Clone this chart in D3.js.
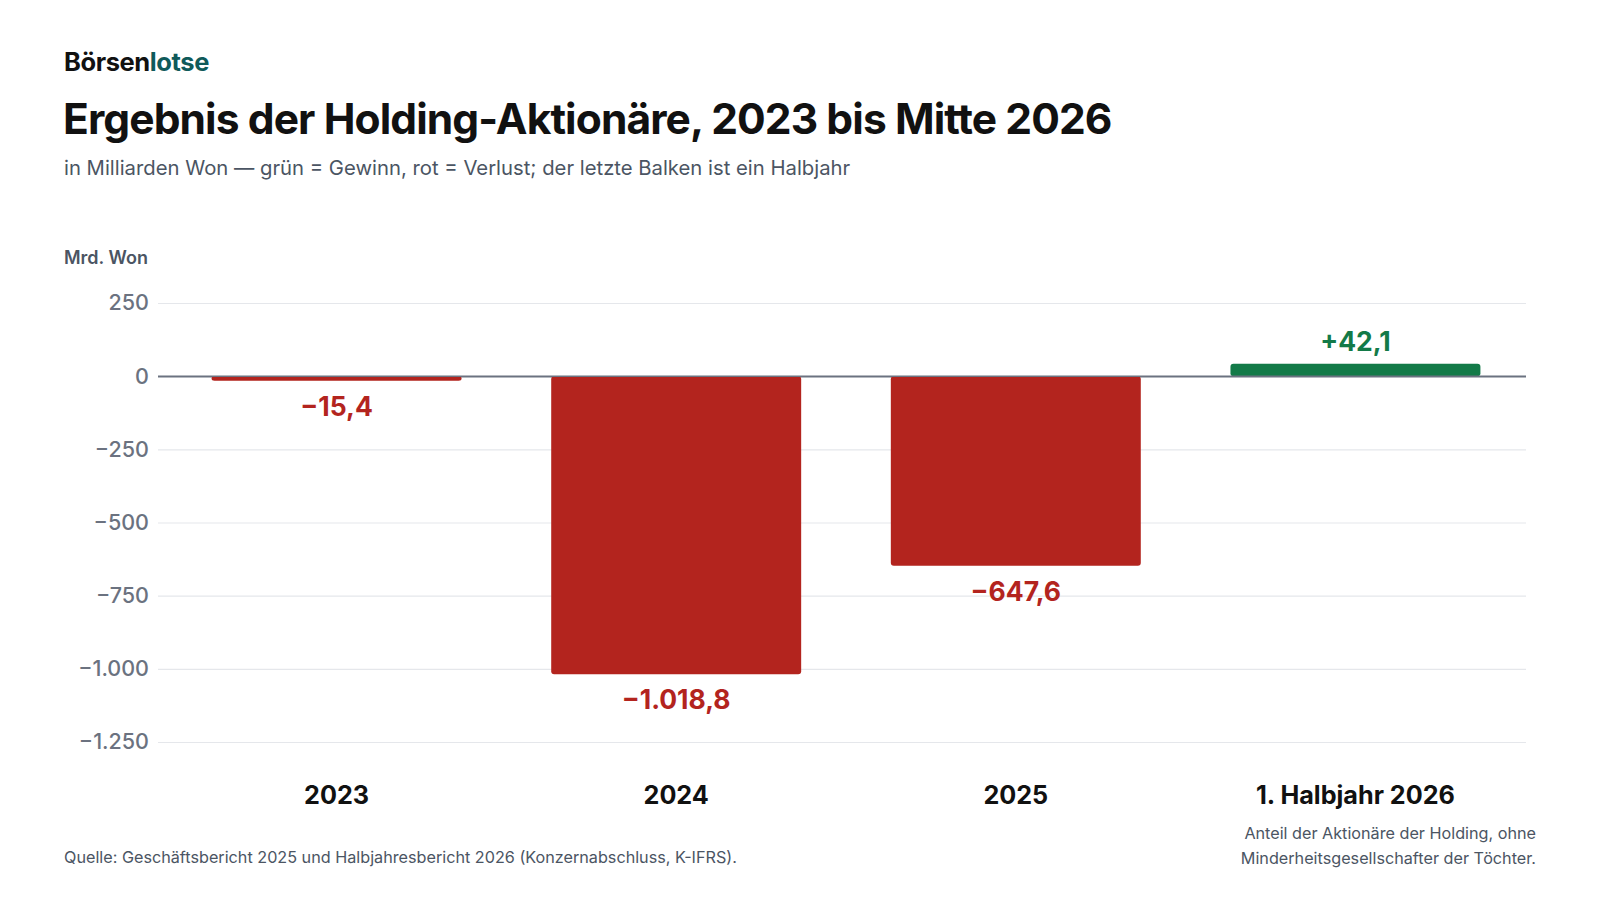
<!DOCTYPE html>
<html lang="de">
<head>
<meta charset="utf-8">
<script src="https://cdn.jsdelivr.net/npm/d3@7"></script>
<style>
  html, body { margin: 0; padding: 0; background: #fff; }
  svg { display: block; font-family: Inter, "Noto Sans", sans-serif; }
</style>
</head>
<body>
<div id="chart"></div>
<script>
// chart values
var categories = ["2023", "2024", "2025", "1. Halbjahr 2026"];
var values = [-15.4, -1018.8, -647.6, 42.1];
var yTicks = [250, 0, -250, -500, -750, -1000, -1250];

var width = 1600, height = 900;
var margin = { top: 303, right: 74, bottom: 158, left: 158 };

var svg = d3.select("#chart").append("svg")
  .attr("width", width)
  .attr("height", height);

var fmt = d3.formatLocale({ decimal: ",", thousands: ".", grouping: [3], currency: ["", ""], minus: "\u2212" });
var tickFmt = fmt.format(",d");
var valFmt = fmt.format(",.1f");

// scales
var y = d3.scaleLinear()
  .domain([250, -1250])
  .range([margin.top, height - margin.bottom]);

var x = d3.scaleBand()
  .domain(categories)
  .range([margin.left + 4, width - margin.right + 4])
  .paddingInner(0.264)
  .paddingOuter(0.146);

var plotW = width - margin.right - margin.left;

// header
var brand = svg.append("text")
  .attr("x", 64).attr("y", 71)
  .attr("font-size", 25.5).attr("font-weight", 700)
  .attr("letter-spacing", -0.4);
brand.append("tspan").attr("fill", "#111").text("Börsen");
brand.append("tspan").attr("fill", "#0f5a5a").text("lotse");

svg.append("text")
  .attr("x", 63).attr("y", 134)
  .attr("font-size", 42.5).attr("font-weight", 700)
  .attr("letter-spacing", -0.9)
  .attr("fill", "#111")
  .text("Ergebnis der Holding-Aktionäre, 2023 bis Mitte 2026");

svg.append("text")
  .attr("x", 64).attr("y", 175)
  .attr("font-size", 20.3)
  .attr("fill", "#4b5563")
  .text("in Milliarden Won — grün = Gewinn, rot = Verlust; der letzte Balken ist ein Halbjahr");

svg.append("text")
  .attr("x", 64).attr("y", 264)
  .attr("font-size", 18).attr("font-weight", 600)
  .attr("fill", "#4b5563")
  .text("Mrd. Won");

// y axis with grid
var yAxis = d3.axisLeft(y)
  .tickValues(yTicks)
  .tickFormat(tickFmt)
  .tickSize(-plotW)
  .tickPadding(9);

var gy = svg.append("g")
  .attr("transform", "translate(" + margin.left + ",0)")
  .call(yAxis);
gy.select(".domain").remove();
gy.selectAll(".tick line")
  .attr("stroke", (d) => d === 0 ? "#6b7280" : "#e5e7eb")
  .attr("stroke-width", (d) => d === 0 ? 1.5 : 1.2);
gy.selectAll(".tick text")
  .attr("font-size", 21.5).attr("font-weight", 500)
  .attr("font-family", "Inter, sans-serif")
  .attr("fill", "#6b7280");

// bars
svg.append("g").selectAll("rect")
  .data(values)
  .join("rect")
  .attr("x", (d, i) => x(categories[i]))
  .attr("width", x.bandwidth())
  .attr("y", (d) => Math.min(y(d), y(0)))
  .attr("height", (d) => Math.abs(y(d) - y(0)))
  .attr("rx", 3)
  .attr("fill", (d) => d < 0 ? "#b3241e" : "#137a48");

// zero line drawn above bars
svg.append("line")
  .attr("x1", margin.left).attr("x2", margin.left + plotW)
  .attr("y1", y(0)).attr("y2", y(0))
  .attr("stroke", "#6b7280").attr("stroke-width", 1.5);

// value labels
svg.append("g").selectAll("text")
  .data(values)
  .join("text")
  .attr("x", (d, i) => x(categories[i]) + x.bandwidth() / 2)
  .attr("y", (d) => d < 0 ? y(d) + 35 : y(d) - 12.5)
  .attr("text-anchor", "middle")
  .attr("font-size", 26.5).attr("font-weight", 700)
  .attr("fill", (d) => d < 0 ? "#b3241e" : "#137a48")
  .text((d) => (d > 0 ? "+" : "") + valFmt(d));

// category labels
var xAxis = d3.axisBottom(x).tickSize(0).tickPadding(0);
var gx = svg.append("g")
  .attr("transform", "translate(0,804)")
  .call(xAxis);
gx.select(".domain").remove();
gx.selectAll(".tick text")
  .attr("dy", 0)
  .attr("font-size", 25.2).attr("font-weight", 700)
  .attr("font-family", "Inter, sans-serif")
  .attr("fill", "#111");

// footer
svg.append("text")
  .attr("x", 64).attr("y", 863)
  .attr("font-size", 16.2)
  .attr("fill", "#4b5563")
  .text("Quelle: Geschäftsbericht 2025 und Halbjahresbericht 2026 (Konzernabschluss, K-IFRS).");

svg.append("text")
  .attr("x", 1536).attr("y", 839)
  .attr("text-anchor", "end")
  .attr("font-size", 16.2)
  .attr("fill", "#4b5563")
  .selectAll("tspan")
  .data(["Anteil der Aktionäre der Holding, ohne", "Minderheitsgesellschafter der Töchter."])
  .join("tspan")
  .attr("x", 1536)
  .attr("dy", (d, i) => i === 0 ? 0 : 24.5)
  .text((d) => d);
</script>
</body>
</html>
